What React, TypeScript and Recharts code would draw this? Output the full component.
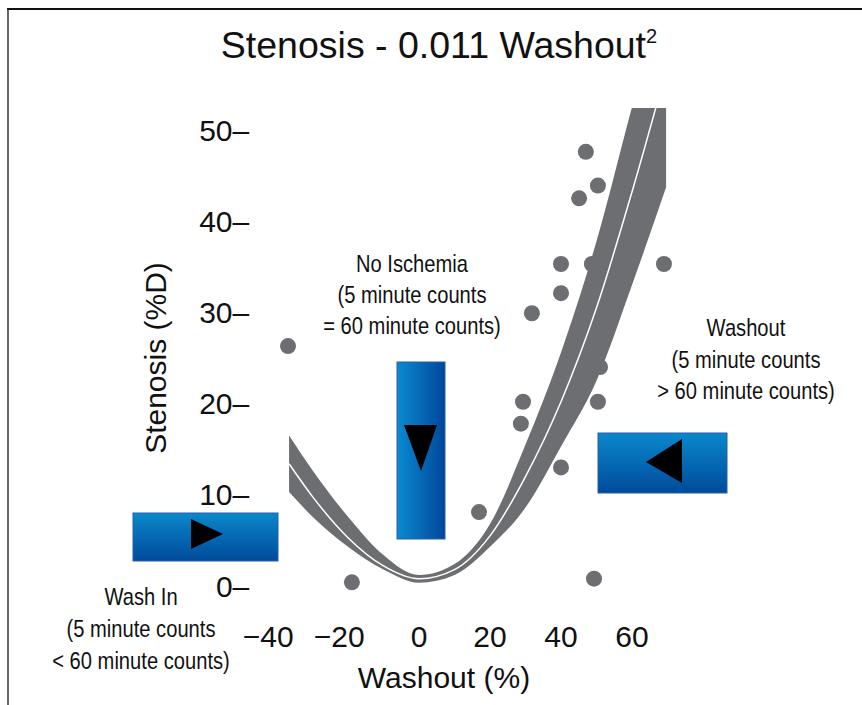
import { ComposedChart, XAxis, YAxis, Area, Line, Scatter } from 'recharts';

// fitted curve and its band
const curveWashout = [-36.6, -30, -20, -10, 0, 10, 20, 30, 40, 50, 60, 69.6];
const curveFit = [13.4, 9.8, 5.3, 2.2, 0.8, 1.8, 5.5, 12.0, 20.2, 30.5, 43.2, 56.5];
const curveUpper = [16.5, 12.7, 7.6, 3.4, 1.2, 2.4, 6.8, 15.5, 25.6, 37.8, 52.5, 66.0];
const curveLower = [10.3, 7.6, 4.3, 1.8, 0.35, 1.2, 4.3, 8.6, 15.3, 22.5, 33.0, 43.7];

// patients
const pointWashout = [-36.9, -18.9, 16.9, 28.7, 29.3, 31.8, 40.0, 40.0, 40.0, 45.1, 47.0, 48.7, 50.4, 51.0, 50.4, 49.3, 69.0];
const pointStenosis = [26.3, 0.4, 8.1, 17.8, 20.2, 29.9, 13.0, 32.1, 35.3, 42.5, 47.6, 35.3, 43.9, 24.0, 20.2, 0.8, 35.3];

const xTicks = [-40, -20, 0, 20, 40, 60];
const yTicks = [0, 10, 20, 30, 40, 50];

const GREY = '#6d6e71';
const FONT = "'Liberation Sans', Arial, Helvetica, sans-serif";

const curveData = curveWashout.map((w, i) => ({
  washout: w,
  fit: curveFit[i],
  band: [curveLower[i], curveUpper[i]],
}));

const pointData = pointWashout.map((w, i) => ({ washout: w, stenosis: pointStenosis[i] }));

function YTick({ x, y, payload }: any) {
  return (
    <text x={x} y={y} dy="0.355em" textAnchor="end" fontSize={30} fill="#111" fontFamily={FONT}>
      {`${payload.value}–`}
    </text>
  );
}

function XTick({ x, y, payload }: any) {
  const v = payload.value as number;
  const digits = String(Math.abs(v));
  return (
    <g>
      <text x={x} y={y} dy="0.71em" textAnchor="middle" fontSize={30} fill="#111" fontFamily={FONT}>
        {digits}
      </text>
      {v < 0 && (
        <text
          x={x - digits.length * 0.278 * 30}
          y={y}
          dy="0.71em"
          textAnchor="end"
          fontSize={30}
          fill="#111"
          fontFamily={FONT}
        >
          −
        </text>
      )}
    </g>
  );
}

function Dot({ cx, cy }: any) {
  return <circle cx={cx} cy={cy} r={8} fill={GREY} />;
}

// three centred lines in a condensed look (plain font squeezed sideways)
function Note({ cx, baselines, lines }: { cx: number; baselines: number[]; lines: string[] }) {
  return (
    <g transform={`translate(${cx},0) scale(0.84,1)`}>
      {lines.map((t, i) => (
        <text key={i} x={0} y={baselines[i]} textAnchor="middle" fontSize={24} fill="#111" fontFamily={FONT}>
          {t}
        </text>
      ))}
    </g>
  );
}

function Notes() {
  return (
    <svg
      width={862}
      height={705}
      style={{ position: 'absolute', left: 0, top: 0, pointerEvents: 'none' }}
    >
      <defs>
        <linearGradient id="blueV" x1="0" y1="0" x2="0" y2="1">
          <stop offset="0%" stopColor="#0a88cb" />
          <stop offset="100%" stopColor="#004a9b" />
        </linearGradient>
        <linearGradient id="blueH" x1="0" y1="0" x2="1" y2="0">
          <stop offset="0%" stopColor="#0a8ad0" />
          <stop offset="100%" stopColor="#00479b" />
        </linearGradient>
      </defs>

      {/* frame */}
      <line x1={7} y1={9} x2={862} y2={9} stroke="#111" strokeWidth={2} />
      <line x1={8} y1={9} x2={8} y2={705} stroke="#333" strokeWidth={1.5} />

      <text x={439} y={58} textAnchor="middle" fontSize={37.5} fill="#111" fontFamily={FONT}>
        Stenosis - 0.011 Washout
        <tspan dy={-15} fontSize={20}>2</tspan>
      </text>

      <text x={444} y={688} textAnchor="middle" fontSize={30} fill="#111" fontFamily={FONT}>
        Washout (%)
      </text>
      <text
        transform="translate(166,358) rotate(-90)"
        textAnchor="middle"
        fontSize={30}
        fill="#111"
        fontFamily={FONT}
      >
        Stenosis (%D)
      </text>

      {/* wash in */}
      <rect x={133} y={513} width={145} height={48} fill="url(#blueV)" stroke="#2b5ea8" strokeWidth={1} />
      <polygon points="191,519 223,534 191,549" fill="#000" />
      <Note cx={141} baselines={[605, 637, 669]} lines={['Wash In', '(5 minute counts', '< 60 minute counts)']} />

      {/* no ischemia */}
      <rect x={397} y={362} width={48} height={177} fill="url(#blueH)" stroke="#2b5ea8" strokeWidth={1} />
      <polygon points="404,425 437,425 421,471" fill="#000" />
      <Note cx={412} baselines={[272, 303, 334]} lines={['No Ischemia', '(5 minute counts', '= 60 minute counts)']} />

      {/* washout */}
      <rect x={598} y={433} width={129} height={60} fill="url(#blueV)" stroke="#2b5ea8" strokeWidth={1} />
      <polygon points="646,462 682,439 682,483" fill="#000" />
      <Note cx={746} baselines={[336, 368, 399]} lines={['Washout', '(5 minute counts', '> 60 minute counts)']} />
    </svg>
  );
}

export default function App() {
  return (
    <div style={{ position: 'absolute', left: 0, top: 0, width: 862, height: 705, background: '#fff' }}>
      <ComposedChart
        width={862}
        height={705}
        data={curveData}
        margin={{ top: 108, right: 159, bottom: 22.5, left: 0 }}
      >
        <XAxis
          type="number"
          dataKey="washout"
          domain={[-45, 80]}
          ticks={xTicks}
          axisLine={false}
          tickLine={false}
          tickSize={0}
          tickMargin={3}
          height={60}
          tick={<XTick />}
          interval={0}
        />
        <YAxis
          type="number"
          domain={[-4, 52.4]}
          allowDataOverflow
          ticks={yTicks}
          axisLine={false}
          tickLine={false}
          tickSize={0}
          tickMargin={10}
          width={259.25}
          tick={<YTick />}
          interval={0}
        />
        <Area
          type="monotone"
          dataKey="band"
          fill={GREY}
          fillOpacity={1}
          stroke="none"
          isAnimationActive={false}
        />
        <Line
          type="monotone"
          dataKey="fit"
          stroke="#fff"
          strokeWidth={1.5}
          dot={false}
          isAnimationActive={false}
        />
        <Scatter data={pointData} dataKey="stenosis" shape={<Dot />} isAnimationActive={false} />
      </ComposedChart>
      <Notes />
    </div>
  );
}
